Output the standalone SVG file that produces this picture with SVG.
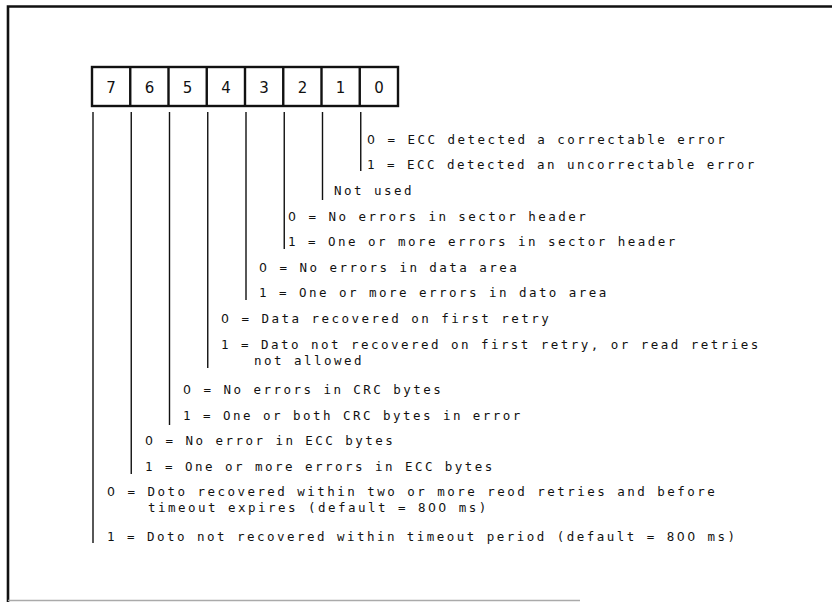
<svg xmlns="http://www.w3.org/2000/svg" width="832" height="602" viewBox="0 0 832 602">
<style>
.t{font-family:"DejaVu Sans Mono","Liberation Mono",monospace;font-size:12.5px;letter-spacing:2.47px;fill:#111}
.z{font-family:"DejaVu Sans",sans-serif}
.d{font-family:"DejaVu Sans",Arial,sans-serif;font-size:15px;fill:#111;text-anchor:middle}
.c{stroke:#111;stroke-width:1.4;fill:none}
.b{stroke:#111;stroke-width:2.4;fill:#fff}
</style>
<rect width="832" height="602" fill="#fff"/>
<g id="frame">
<path d="M8 602 V6.5 H832" stroke="#111" stroke-width="2.6" fill="none"/>
<path d="M8 600.5 H580" stroke="#aaa" stroke-width="1.5" fill="none"/>
</g>
<g id="register">
<rect class="b" x="92" y="67" width="306" height="39"/>
<path class="b" d="M130.25 67V106M168.5 67V106M206.75 67V106M245 67V106M283.25 67V106M321.5 67V106M359.75 67V106"/>
<text class="d" x="111.1" y="93">7</text>
<text class="d" x="149.4" y="93">6</text>
<text class="d" x="187.6" y="93">5</text>
<text class="d" x="225.9" y="93">4</text>
<text class="d" x="264.1" y="93">3</text>
<text class="d" x="302.4" y="93">2</text>
<text class="d" x="340.6" y="93">1</text>
<text class="d" x="378.9" y="93">0</text>
</g>
<g id="connectors">
<path class="c" d="M93 112V543M131.25 112V474M169.5 112V425M207.75 112V368M246 112V300M284.25 112V249M322.5 112V200M360.75 112V171"/>
</g>
<g id="bit0">
<text class="t" x="367" y="143.5"><tspan class="z">0</tspan> = ECC detected a correctable error</text>
<text class="t" x="367" y="168.5">1 = ECC detected an uncorrectable error</text>
</g>
<g id="bit1">
<text class="t" x="334" y="194.5">Not used</text>
</g>
<g id="bit2">
<text class="t" x="288" y="220.5"><tspan class="z">0</tspan> = No errors in sector header</text>
<text class="t" x="288" y="245.5">1 = One or more errors in sector header</text>
</g>
<g id="bit3">
<text class="t" x="259" y="271.5"><tspan class="z">0</tspan> = No errors in data area</text>
<text class="t" x="259" y="296.5">1 = One or more errors in dato area</text>
</g>
<g id="bit4">
<text class="t" x="221" y="322.5"><tspan class="z">0</tspan> = Data recovered on first retry</text>
<text class="t" x="221" y="348.5">1 = Dato not recovered on first retry, or read retries</text>
<text class="t" x="254" y="364.5">not allowed</text>
</g>
<g id="bit5">
<text class="t" x="183" y="393.5"><tspan class="z">0</tspan> = No errors in CRC bytes</text>
<text class="t" x="183" y="419.5">1 = One or both CRC bytes in error</text>
</g>
<g id="bit6">
<text class="t" x="145" y="444.5"><tspan class="z">0</tspan> = No error in ECC bytes</text>
<text class="t" x="145" y="470.5">1 = One or more errors in ECC bytes</text>
</g>
<g id="bit7">
<text class="t" x="107" y="495.5"><tspan class="z">0</tspan> = Doto recovered within two or more reod retries and before</text>
<text class="t" x="148" y="511.5">timeout expires (default = 8<tspan class="z">00</tspan> ms)</text>
<text class="t" x="107" y="540.5">1 = Doto not recovered within timeout period (default = 8<tspan class="z">00</tspan> ms)</text>
</g>
</svg>
